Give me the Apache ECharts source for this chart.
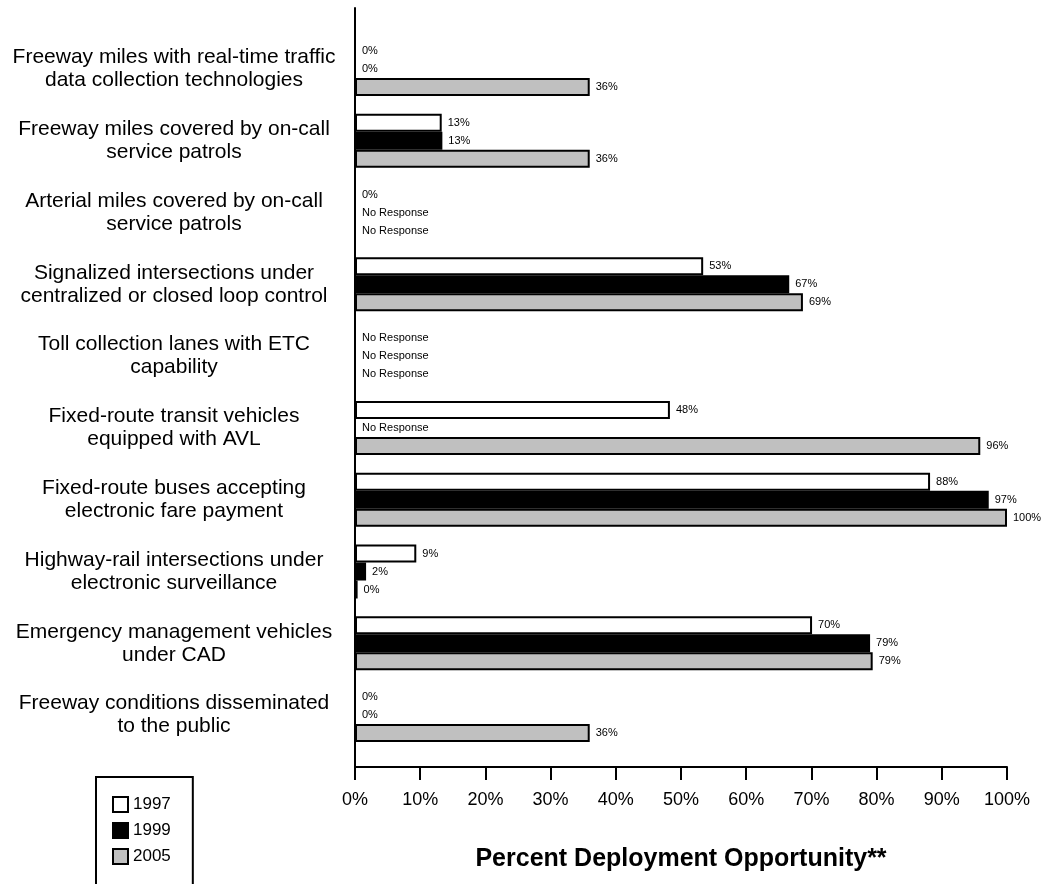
<!DOCTYPE html>
<html>
<head>
<meta charset="utf-8">
<script src="https://cdn.jsdelivr.net/npm/echarts@6/dist/echarts.min.js"></script>
<style>html,body{margin:0;padding:0;background:#fff}#c{width:1044px;height:884px}</style>
</head>
<body>
<div id="c"></div>
<script>
const categories = [
  "Freeway miles with real-time traffic\ndata collection technologies",
  "Freeway miles covered by on-call\nservice patrols",
  "Arterial miles covered by on-call\nservice patrols",
  "Signalized intersections under\ncentralized or closed loop control",
  "Toll collection lanes with ETC\ncapability",
  "Fixed-route transit vehicles\nequipped with AVL",
  "Fixed-route buses accepting\nelectronic fare payment",
  "Highway-rail intersections under\nelectronic surveillance",
  "Emergency management vehicles\nunder CAD",
  "Freeway conditions disseminated\nto the public"
];
// null = "No Response"
const values1997 = [0, 13.3, 0, 53.4, null, 48.3, 88.2, 9.4, 70.1, 0];
const values1999 = [0, 13.4, null, 66.6, null, null, 97.2, 1.7, 79.0, 0];
const values2005 = [36, 36, null, 68.7, null, 95.9, 100, 0.4, 79.4, 36];
const seriesNames = ["1997", "1999", "2005"];
const xTicks = {min: 0, max: 100, interval: 10};

const FONT = "Liberation Sans, Arial, sans-serif";
const colors = ["#ffffff", "#000000", "#c0c0c0"];

function mkData(arr) {
  return arr.map(v => v === null ? {value: 0, noResp: true} : {value: v});
}
function mkSeries(name, arr, color) {
  return {
    name: name,
    type: "bar",
    xAxisIndex: 0, yAxisIndex: 0,
    barWidth: 18,
    barGap: "0%",
    data: mkData(arr),
    itemStyle: {color: color, borderColor: "#000", borderWidth: 2},
    label: {
      show: true, position: "right", distance: 6,
      fontFamily: FONT, fontSize: 11, color: "#000",
      formatter: p => p.data.noResp ? "No Response" : Math.round(p.value) + "%"
    },
    emphasis: {disabled: true},
    animation: false
  };
}

const chart = echarts.init(document.getElementById("c"), null, {renderer: "canvas"});
chart.setOption({
  animation: false,
  backgroundColor: "#fff",
  textStyle: {fontFamily: FONT},
  legend: {
    orient: "vertical",
    left: 96, top: 777,
    height: 100,
    padding: [19, 22, 20, 16],
    borderColor: "#000", borderWidth: 2,
    icon: "rect",
    itemWidth: 15, itemHeight: 15, itemGap: 9,
    textStyle: {fontFamily: FONT, fontSize: 17, color: "#000"},
    data: seriesNames.map((n, i) => ({name: n, itemStyle: {color: colors[i], borderColor: "#000", borderWidth: 2}})),
    selectedMode: false
  },
  grid: [
    {left: 355, right: 37, top: 33, bottom: 133, containLabel: false},
    {left: 355, right: 37, top: 8, bottom: 117, containLabel: false}
  ],
  xAxis: [
    {
      type: "value", gridIndex: 0, min: xTicks.min, max: xTicks.max, interval: xTicks.interval,
      offset: 16,
      axisLine: {show: true, lineStyle: {color: "#000", width: 2}},
      axisTick: {show: true, length: 13, lineStyle: {color: "#000", width: 2}},
      splitLine: {show: false},
      axisLabel: {formatter: "{value}%", fontFamily: FONT, fontSize: 18, color: "#000", margin: 24},
      name: "Percent Deployment Opportunity**",
      nameLocation: "middle", nameGap: 80,
      nameTextStyle: {fontFamily: FONT, fontSize: 25, fontWeight: "bold", color: "#000"}
    },
    {type: "value", gridIndex: 1, show: false, min: 0, max: 1}
  ],
  yAxis: [
    {
      type: "category", gridIndex: 0, data: categories, inverse: true,
      axisLine: {show: false}, axisTick: {show: false}, splitLine: {show: false},
      axisLabel: {fontFamily: FONT, fontSize: 21, color: "#000", lineHeight: 23, align: "center", margin: 181, padding: [5, 0, 0, 0]}
    },
    {
      type: "value", gridIndex: 1, min: 0, max: 1,
      axisLine: {show: true, onZero: false, lineStyle: {color: "#000", width: 2}},
      axisTick: {show: false}, axisLabel: {show: false}, splitLine: {show: false}
    }
  ],
  series: [
    mkSeries(seriesNames[0], values1997, colors[0]),
    mkSeries(seriesNames[1], values1999, colors[1]),
    mkSeries(seriesNames[2], values2005, colors[2])
  ]
});
</script>
</body>
</html>
